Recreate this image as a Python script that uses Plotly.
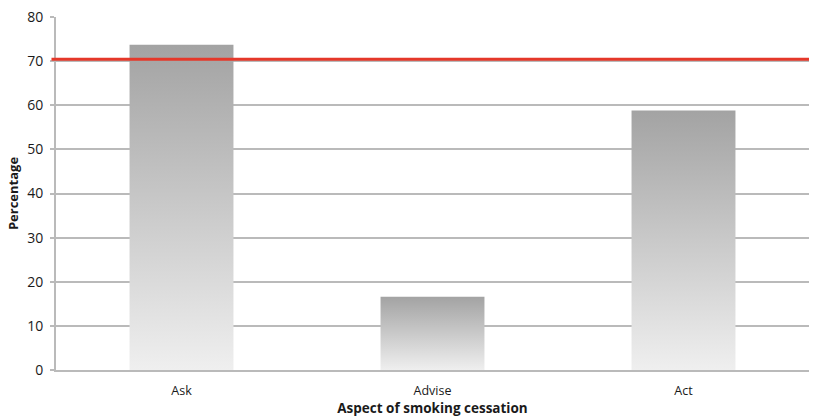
import plotly.graph_objects as go

categories = ["Ask", "Advise", "Act"]
percentages = [73.7, 16.6, 58.8]
target_level = 70.4
y_ticks = [0, 10, 20, 30, 40, 50, 60, 70, 80]

bar_width = 0.414
grid_color = "#bababa"
font_family = "Open Sans, Noto Sans, sans-serif"

fig = go.Figure()

# Each bar is a filled polygon so it can carry a vertical gray gradient
for i, (cat, val) in enumerate(zip(categories, percentages)):
    x0, x1 = i - bar_width / 2, i + bar_width / 2
    fig.add_trace(go.Scatter(
        x=[x0, x1, x1, x0, x0],
        y=[0, 0, val, val, 0],
        mode="lines",
        line=dict(width=0),
        fill="toself",
        fillgradient=dict(
            type="vertical",
            colorscale=[[0, "#efefef"], [1, "#a3a3a3"]],
        ),
        name=cat,
        hoverinfo="skip",
        showlegend=False,
    ))

# Target reference line
fig.add_shape(
    type="line", xref="paper", yref="y",
    x0=-0.006, x1=1, y0=target_level, y1=target_level,
    line=dict(color="#e5382a", width=3),
)

fig.update_layout(
    width=824, height=419,
    margin=dict(l=56, r=15, t=17, b=49),
    plot_bgcolor="white", paper_bgcolor="white",
    font=dict(family=font_family, size=13, color="#1a1a1a"),
    showlegend=False,
)

fig.update_xaxes(
    range=[-0.5, 2.5],
    tickvals=list(range(len(categories))),
    ticktext=categories,
    showgrid=False, zeroline=False,
    showline=True, linecolor=grid_color, linewidth=2,
    ticks="", tickfont=dict(size=12.5),
    ticklabelstandoff=8,
    automargin=False,
    title=dict(text="<b>Aspect of smoking cessation</b>",
               font=dict(size=13.5), standoff=4),
)

fig.update_yaxes(
    range=[0, 80],
    tickvals=y_ticks,
    showgrid=True, gridcolor=grid_color, gridwidth=2,
    zeroline=False,
    showline=True, linecolor=grid_color, linewidth=2,
    ticks="outside", ticklen=4, tickcolor=grid_color, tickwidth=2,
    tickfont=dict(size=14),
    ticklabelstandoff=4,
    automargin=False,
    title=dict(text="<b>Percentage</b>", font=dict(size=13), standoff=6),
)

fig.write_html("out.html")
